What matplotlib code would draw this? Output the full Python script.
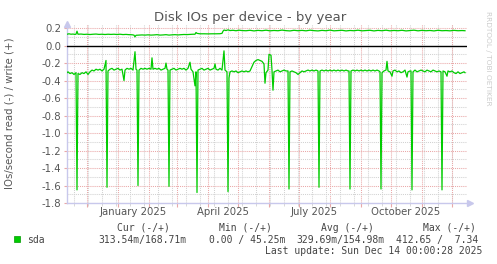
import matplotlib
matplotlib.use("Agg")
import matplotlib.pyplot as plt
import matplotlib.transforms as mtransforms
import pandas as pd
import numpy as np

# ---------------- data (day offsets from 2025-01-01) ----------------
base = pd.Timestamp("2025-01-01")

read_day = [-51, -50, -48, -46, -44, -42, -41, -40, -38, -36, -34, -32, -30, -28, -26, -24,
            -22, -20, -18, -16, -14, -12, -11, -10, -8, -6, -4, -2, 0, 2, 4, 6, 7, 9, 11,
            13, 15, 17, 18, 19, 20, 21, 23, 25, 27, 29, 31, 33, 34, 35, 37, 39, 41, 43,
            45, 47, 48, 49, 50, 51, 52, 54, 56, 58, 60, 62, 64, 66, 68, 70, 72, 73, 75,
            77, 78, 79, 80, 82, 84, 86, 88, 90, 92, 94, 96, 97, 98, 100, 102, 104, 106,
            107, 109, 110, 111, 112, 114, 116, 118, 120, 122, 124, 126, 128, 130, 132,
            134, 136, 138, 140, 142, 144, 146, 147, 148, 150, 151, 153, 154, 155, 156,
            158, 160, 162, 164, 166, 168, 170, 171, 172, 174, 176, 178, 180, 182, 184,
            186, 188, 190, 192, 194, 196, 198, 200, 201, 202, 204, 206, 208, 210, 212,
            214, 216, 218, 220, 222, 224, 226, 228, 230, 231, 232, 233, 235, 237, 239,
            241, 243, 245, 247, 249, 251, 253, 255, 257, 259, 261, 262, 263, 264, 266,
            268, 269, 270, 272, 274, 275, 277, 279, 281, 283, 285, 287, 289, 290, 292,
            293, 294, 295, 297, 299, 301, 303, 305, 307, 309, 311, 313, 315, 317, 319,
            321, 323, 324, 325, 327, 329, 330, 332, 334, 336, 338, 340, 342, 344, 346, 347]
read_val = [-0.31, -0.30, -0.32, -0.31, -0.33, -0.31, -1.65, -0.32, -0.33, -0.31, -0.32, -0.30,
            -0.33, -0.30, -0.28, -0.29, -0.27, -0.28, -0.27, -0.29, -0.27, -0.17, -1.62, -0.29,
            -0.27, -0.26, -0.28, -0.27, -0.26, -0.28, -0.27, -0.40, -0.28, -0.26, -0.27, -0.26,
            -0.28, -0.07, -0.27, -0.28, -1.60, -0.28, -0.26, -0.27, -0.26, -0.27, -0.26, -0.27,
            -0.14, -0.27, -0.26, -0.27, -0.26, -0.28, -0.27, -0.26, -0.20, -0.27, -0.28, -1.61,
            -0.28, -0.27, -0.26, -0.28, -0.27, -0.26, -0.27, -0.26, -0.28, -0.26, -0.19, -0.27,
            -0.30, -0.46, -0.30, -1.68, -0.28, -0.27, -0.26, -0.28, -0.27, -0.26, -0.28, -0.27,
            -0.26, -0.21, -0.27, -0.28, -0.26, -0.28, -0.06, -0.28, -0.30, -1.67, -0.37, -0.30,
            -0.29, -0.30, -0.29, -0.31, -0.30, -0.29, -0.30, -0.29, -0.30, -0.29, -0.24, -0.19,
            -0.17, -0.16, -0.17, -0.18, -0.21, -0.43, -0.31, -0.28, -0.10, -0.11, -0.28, -0.51,
            -0.30, -0.29, -0.28, -0.30, -0.29, -0.28, -0.29, -0.29, -1.64, -0.30, -0.29, -0.30,
            -0.31, -0.33, -0.31, -0.29, -0.30, -0.29, -0.28, -0.29, -0.28, -0.29, -0.28, -0.29,
            -1.62, -0.29, -0.28, -0.29, -0.28, -0.29, -0.28, -0.29, -0.28, -0.29, -0.28, -0.29,
            -0.28, -0.29, -0.28, -0.29, -0.29, -1.64, -0.29, -0.28, -0.29, -0.28, -0.29, -0.28,
            -0.29, -0.28, -0.29, -0.28, -0.29, -0.28, -0.29, -0.28, -0.29, -0.30, -1.64, -0.31,
            -0.29, -0.28, -0.18, -0.29, -0.30, -0.35, -0.29, -0.28, -0.30, -0.29, -0.31, -0.30,
            -0.28, -0.36, -0.30, -0.29, -0.29, -1.65, -0.30, -0.28, -0.30, -0.29, -0.28, -0.29,
            -0.30, -0.28, -0.29, -0.30, -0.28, -0.29, -0.30, -0.29, -0.30, -1.65, -0.29, -0.30,
            -0.35, -0.29, -0.30, -0.29, -0.31, -0.32, -0.30, -0.32, -0.31, -0.30, -0.31]

write_day = [-51, -49, -47, -45, -43, -42, -41, -40, -37, -34, -31, -28, -25, -22, -19, -16,
             -13, -10, -7, -4, -1, 2, 5, 8, 11, 14, 16, 17, 18, 21, 24, 27, 30, 33, 36, 39,
             42, 45, 48, 51, 54, 57, 60, 63, 66, 69, 72, 75, 77, 78, 79, 82, 86, 90, 94, 98,
             102, 104, 105, 106, 108, 110, 112, 115, 118, 121, 124, 128, 132, 136, 140, 144,
             148, 152, 156, 160, 164, 168, 172, 176, 180, 184, 188, 192, 196, 200, 204, 208,
             212, 216, 220, 224, 228, 232, 236, 240, 244, 248, 252, 256, 260, 264, 268, 272,
             276, 280, 284, 288, 292, 296, 300, 304, 308, 312, 316, 320, 324, 328, 332, 336,
             340, 344, 347]
write_val = [0.130, 0.135, 0.130, 0.132, 0.128, 0.130, 0.165, 0.130, 0.132, 0.128, 0.130, 0.127,
             0.130, 0.132, 0.128, 0.130, 0.127, 0.130, 0.128, 0.130, 0.127, 0.130, 0.126, 0.128,
             0.125, 0.124, 0.120, 0.100, 0.118, 0.120, 0.122, 0.120, 0.123, 0.120, 0.122, 0.125,
             0.120, 0.122, 0.125, 0.120, 0.123, 0.125, 0.122, 0.125, 0.127, 0.126, 0.128, 0.130,
             0.130, 0.150, 0.140, 0.135, 0.135, 0.134, 0.135, 0.135, 0.136, 0.140, 0.165, 0.178,
             0.172, 0.180, 0.172, 0.175, 0.170, 0.176, 0.172, 0.170, 0.175, 0.168, 0.174, 0.170,
             0.176, 0.169, 0.173, 0.170, 0.177, 0.171, 0.168, 0.175, 0.170, 0.174, 0.169, 0.176,
             0.171, 0.168, 0.174, 0.170, 0.177, 0.169, 0.172, 0.175, 0.168, 0.173, 0.170, 0.176,
             0.169, 0.172, 0.175, 0.168, 0.174, 0.170, 0.176, 0.169, 0.173, 0.170, 0.175, 0.168,
             0.172, 0.176, 0.169, 0.174, 0.170, 0.173, 0.168, 0.175, 0.170, 0.172, 0.169, 0.174,
             0.170, 0.172, 0.170]

x_labels = ["January 2025", "April 2025", "July 2025", "October 2025"]
x_label_dates = ["2025-01-16", "2025-04-16", "2025-07-16", "2025-10-16"]
y_ticks = [0.2, 0.0, -0.2, -0.4, -0.6, -0.8, -1.0, -1.2, -1.4, -1.6, -1.8]

legend_headers = ["Cur (-/+)", "Min (-/+)", "Avg (-/+)", "Max (-/+)"]
legend_values = ["313.54m/168.71m", "0.00 / 45.25m", "329.69m/154.98m", "412.65 /  7.34"]
series_name = "sda"
title = "Disk IOs per device - by year"
ylabel = "IOs/second read (-) / write (+)"
last_update = "Last update: Sun Dec 14 00:00:28 2025"

# ---------------- figure ----------------
W, H = 497, 264
fig = plt.figure(figsize=(W / 100, H / 100), dpi=100)
fig.patch.set_facecolor("white")
L, R, T, B = 67, 467, 24, 203
ax = fig.add_axes([L / W, 1 - B / H, (R - L) / W, (B - T) / H])
ax.set_facecolor("white")

xmin = base + pd.Timedelta(days=-51)
xmax = base + pd.Timedelta(days=349)
ax.set_xlim(xmin, xmax)
ax.set_ylim(-1.8, 0.247)

# grid
minor_col = "#d2d2d2"
major_col = "#eaa8a8"
dot = (0, (1, 1))
mondays = pd.date_range(end="2025-12-15", periods=30, freq="14D") - pd.Timedelta(days=14)
for d in mondays:
    if xmin <= d <= xmax:
        ax.axvline(d, color=minor_col, lw=0.75, ls=dot, zorder=1)
months = pd.date_range("2024-12-01", "2025-12-01", freq="MS")
for d in months:
    ax.axvline(d, color=major_col, lw=0.75, ls=dot, zorder=1)
for v in np.arange(-1.7, 0.2, 0.2):
    ax.axhline(v, color=minor_col, lw=0.75, ls=dot, zorder=1)
for v in y_ticks:
    if abs(v) > 1e-9:
        ax.axhline(v, color=major_col, lw=0.75, ls=dot, zorder=1)

# data
green = "#00cc00"
rd = [base + pd.Timedelta(days=d) for d in read_day]
wd = [base + pd.Timedelta(days=d) for d in write_day]
ax.plot(rd, read_val, color=green, lw=0.9, zorder=3)
ax.plot(wd, write_val, color=green, lw=0.9, zorder=3)
ax.axhline(0.0, color="black", lw=1.0, zorder=4)

# axes styling
for s in ["top", "right"]:
    ax.spines[s].set_visible(False)
axis_col = "#c8c8ec"
for s in ["left", "bottom"]:
    ax.spines[s].set_color(axis_col)
    ax.spines[s].set_linewidth(1.0)
ax.set_xticks(months)
ax.set_xticks([d for d in mondays if xmin <= d <= xmax], minor=True)
ax.tick_params(axis="x", which="major", length=3, color=major_col, labelbottom=False)
ax.tick_params(axis="x", which="minor", length=2, color=minor_col)
ax.set_yticks(y_ticks)
ax.set_yticklabels([f"{v:.1f}" for v in y_ticks])
ax.tick_params(axis="y", which="major", length=2, color=major_col, labelsize=7.3,
               labelcolor="#555555", pad=2)
ax.plot([0], [1.0], marker="^", ms=4, color=axis_col, transform=ax.transAxes, clip_on=False)
ax.plot([1.008], [0.0], marker=">", ms=4, color=axis_col, transform=ax.transAxes, clip_on=False)

# x labels at quarter centres
trans = mtransforms.blended_transform_factory(ax.transData, ax.transAxes)
for lab, d in zip(x_labels, x_label_dates):
    ax.text(pd.Timestamp(d), -0.05, lab, transform=trans, ha="center", va="center",
            fontsize=7.3, color="#555555")

# titles
fig.text(250 / W, 1 - 18 / H, title, ha="center", va="center", fontsize=9.5, color="#555555")
fig.text(10 / W, 1 - 113 / H, ylabel, rotation=90, ha="center", va="center",
         fontsize=7.3, color="#555555")
fig.text(488 / W, 1 - 58 / H, "RRDTOOL / TOBI OETIKER", rotation=270, ha="center",
         va="center", fontsize=5.3, color="#cccccc")

# legend
mono = "DejaVu Sans Mono"
tc = "#444444"
fig.patches.append(plt.Rectangle((14 / W, 1 - 242 / H), 6 / W, 6 / H, transform=fig.transFigure,
                                 facecolor=green, edgecolor="#009900", lw=0.5))
fig.text(27 / W, 1 - 240 / H, series_name, family=mono, fontsize=7, color=tc, va="center")
hdr_x = [116.7, 219, 321, 423]
val_x = [98, 209, 296, 396]
for h, xh in zip(legend_headers, hdr_x):
    fig.text(xh / W, 1 - 228 / H, h, family=mono, fontsize=7, color=tc, va="center")
for v, xv in zip(legend_values, val_x):
    fig.text(xv / W, 1 - 240 / H, v, family=mono, fontsize=7, color=tc, va="center")
fig.text(482 / W, 1 - 251 / H, last_update, family=mono, fontsize=7, color=tc,
         va="center", ha="right")

fig.savefig("out.png", dpi=100, facecolor="white")
